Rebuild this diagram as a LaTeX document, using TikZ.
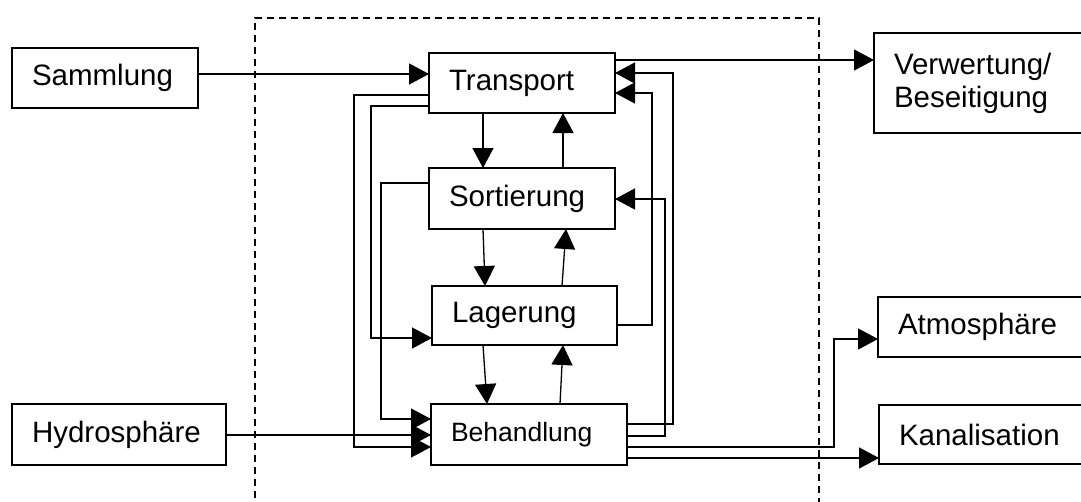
\documentclass[tikz,border=0pt]{standalone}
\usepackage{fontspec}
\setmainfont{Liberation Sans}
\usetikzlibrary{arrows.meta}
\begin{document}
\begin{tikzpicture}[x=1pt,y=-1pt,
  box/.style={draw,line width=1.8pt,anchor=north west,outer sep=0pt,inner xsep=20pt,inner ysep=0pt,align=left,font=\fontsize{29.5}{33}\selectfont},
  arr/.style={line width=1.3pt,-{Triangle[length=20pt,width=21pt]}},
  sysline/.style={line width=1.3pt,dash pattern=on 7pt off 5pt}]
\useasboundingbox (0,0) rectangle (1081,501);
\clip (0,0) rectangle (1081,501);
% system boundary
\draw[sysline] (255,510) -- (255,18) -- (819,18) -- (819,510);
% boxes
\node[box,text width=146pt,minimum height=60pt] (sam) at (12,48) {Sammlung};
\node[box,text width=174pt,minimum height=61pt] (hyd) at (12,404) {Hydrosphäre};
\node[box,text width=146pt,minimum height=60pt] (tra) at (429,53) {Transport};
\node[box,text width=146pt,minimum height=61pt] (sor) at (429,168) {Sortierung};
\node[box,text width=145pt,minimum height=59pt] (lag) at (432,286) {Lagerung};
\node[box,text width=156pt,minimum height=61pt,font=\fontsize{26.5}{30}\selectfont] (beh) at (431,404) {Behandlung};
\node[box,text width=180pt,minimum height=100pt] (ver) at (874,33) {Verwertung/\\Beseitigung};
\node[box,text width=180pt,minimum height=60pt] (atm) at (878,297) {Atmosphäre};
\node[box,text width=180pt,minimum height=59pt] (kan) at (879,405) {Kanalisation};
% bend coordinates
\coordinate (c354) at (354,250);
\coordinate (c371) at (371,250);
\coordinate (c381) at (381,300);
\coordinate (c673) at (673,250);
\coordinate (c652) at (652,200);
\coordinate (c665) at (665,300);
\coordinate (c834) at (834,400);
% inputs
\draw[arr] ([yshift=-26pt]sam.north east) -- ([yshift=-21pt]tra.north west);
\draw[arr] ([yshift=-31pt]hyd.north east) -- ([yshift=-31pt]beh.north west);
% left loops
\draw[arr] ([yshift=-42pt]tra.north west) -| (c354) |- ([yshift=-43pt]beh.north west);
\draw[arr] ([yshift=-53pt]tra.north west) -| (c371) |- ([yshift=-52pt]lag.north west);
\draw[arr] ([yshift=-15pt]sor.north west) -| (c381) |- ([yshift=-15pt]beh.north west);
% vertical chain
\draw[arr] ([xshift=54pt]tra.south west) -- ([xshift=54pt]sor.north west);
\draw[arr] ([xshift=134pt]sor.north west) -- ([xshift=134pt]tra.south west);
\draw[arr] ([xshift=54pt]sor.south west) -- ([xshift=53pt]lag.north west);
\draw[arr] ([xshift=130pt]lag.north west) -- ([xshift=137pt]sor.south west);
\draw[arr] ([xshift=51pt]lag.south west) -- ([xshift=56pt]beh.north west);
\draw[arr] ([xshift=129pt]beh.north west) -- ([xshift=131pt]lag.south west);
% right loops
\draw[arr] ([yshift=-20pt]beh.north east) -| (c673) |- ([yshift=-20pt]tra.north east);
\draw[arr] ([yshift=-39pt]lag.north east) -| (c652) |- ([yshift=-40pt]tra.north east);
\draw[arr] ([yshift=-32pt]beh.north east) -| (c665) |- ([yshift=-31pt]sor.north east);
% outputs
\draw[arr] ([yshift=-7pt]tra.north east) -- ([yshift=-27pt]ver.north west);
\draw[arr] ([yshift=-43pt]beh.north east) -| (c834) |- ([yshift=-42pt]atm.north west);
\draw[arr] ([yshift=-54pt]beh.north east) -- ([yshift=-53pt]kan.north west);
\end{tikzpicture}
\end{document}
